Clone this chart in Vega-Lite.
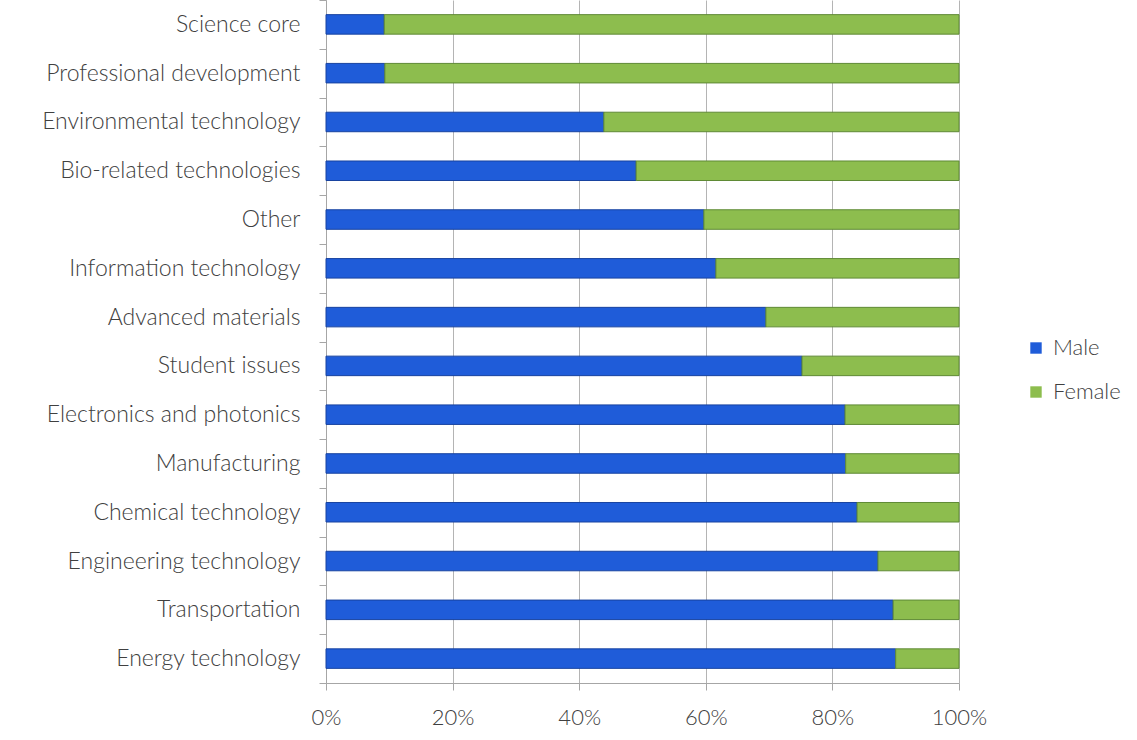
{
  "$schema": "https://vega.github.io/schema/vega-lite/v6.json",
  "width": 633,
  "height": 683,
  "autosize": {"type": "none"},
  "padding": {"left": 326, "top": 0, "right": 178, "bottom": 57},
  "background": "white",
  "config": {
    "view": {"stroke": null},
    "font": "Lato"
  },
  "data": {
    "values": [
      {"field": "Science core", "gender": "Male", "share": 0.092, "ord": 1},
      {"field": "Science core", "gender": "Female", "share": 0.908, "ord": 2},
      {"field": "Professional development", "gender": "Male", "share": 0.093, "ord": 1},
      {"field": "Professional development", "gender": "Female", "share": 0.907, "ord": 2},
      {"field": "Environmental technology", "gender": "Male", "share": 0.439, "ord": 1},
      {"field": "Environmental technology", "gender": "Female", "share": 0.561, "ord": 2},
      {"field": "Bio-related technologies", "gender": "Male", "share": 0.49, "ord": 1},
      {"field": "Bio-related technologies", "gender": "Female", "share": 0.51, "ord": 2},
      {"field": "Other", "gender": "Male", "share": 0.597, "ord": 1},
      {"field": "Other", "gender": "Female", "share": 0.403, "ord": 2},
      {"field": "Information technology", "gender": "Male", "share": 0.616, "ord": 1},
      {"field": "Information technology", "gender": "Female", "share": 0.384, "ord": 2},
      {"field": "Advanced materials", "gender": "Male", "share": 0.695, "ord": 1},
      {"field": "Advanced materials", "gender": "Female", "share": 0.305, "ord": 2},
      {"field": "Student issues", "gender": "Male", "share": 0.752, "ord": 1},
      {"field": "Student issues", "gender": "Female", "share": 0.248, "ord": 2},
      {"field": "Electronics and photonics", "gender": "Male", "share": 0.82, "ord": 1},
      {"field": "Electronics and photonics", "gender": "Female", "share": 0.18, "ord": 2},
      {"field": "Manufacturing", "gender": "Male", "share": 0.821, "ord": 1},
      {"field": "Manufacturing", "gender": "Female", "share": 0.179, "ord": 2},
      {"field": "Chemical technology", "gender": "Male", "share": 0.839, "ord": 1},
      {"field": "Chemical technology", "gender": "Female", "share": 0.161, "ord": 2},
      {"field": "Engineering technology", "gender": "Male", "share": 0.872, "ord": 1},
      {"field": "Engineering technology", "gender": "Female", "share": 0.128, "ord": 2},
      {"field": "Transportation", "gender": "Male", "share": 0.896, "ord": 1},
      {"field": "Transportation", "gender": "Female", "share": 0.104, "ord": 2},
      {"field": "Energy technology", "gender": "Male", "share": 0.90, "ord": 1},
      {"field": "Energy technology", "gender": "Female", "share": 0.10, "ord": 2}
    ]
  },
  "mark": {"type": "bar", "strokeWidth": 1, "height": {"band": 0.4}},
  "encoding": {
    "y": {
      "field": "field",
      "type": "nominal",
      "sort": ["Science core", "Professional development", "Environmental technology", "Bio-related technologies", "Other", "Information technology", "Advanced materials", "Student issues", "Electronics and photonics", "Manufacturing", "Chemical technology", "Engineering technology", "Transportation", "Energy technology"],
      "scale": {"paddingInner": 0, "paddingOuter": 0},
      "axis": {
        "title": null,
        "ticks": true,
        "tickBand": "extent",
        "tickSize": 7,
        "tickColor": "#a6a6a6",
        "domain": true,
        "domainColor": "#a6a6a6",
        "labelFontSize": 23,
        "labelFontWeight": 300,
        "labelColor": "#404040",
        "labelPadding": 19,
        "labelFont": "Lato",
        "labelLimit": 400
      }
    },
    "x": {
      "field": "share",
      "type": "quantitative",
      "stack": "zero",
      "scale": {"domain": [0, 1], "nice": false},
      "axis": {
        "title": null,
        "format": ".0%",
        "values": [0, 0.2, 0.4, 0.6, 0.8, 1],
        "grid": true,
        "gridColor": "#b4b4b4",
        "domainColor": "#a6a6a6",
        "tickColor": "#a6a6a6",
        "tickSize": 7,
        "labelFontSize": 22,
        "labelFontWeight": 300,
        "labelColor": "#404040",
        "labelPadding": 17,
        "labelFlush": false
      }
    },
    "color": {
      "field": "gender",
      "type": "nominal",
      "scale": {"domain": ["Male", "Female"], "range": ["#1f5cd9", "#8dbd4e"]},
      "legend": {
        "title": null,
        "orient": "none",
        "legendX": 699,
        "legendY": 337,
        "symbolType": "square",
        "symbolSize": 130,
        "symbolStrokeWidth": 0,
        "labelFontSize": 22,
        "labelFontWeight": 300,
        "labelColor": "#404040",
        "rowPadding": 22,
        "labelOffset": 6
      }
    },
    "stroke": {
      "field": "gender",
      "type": "nominal",
      "scale": {"domain": ["Male", "Female"], "range": ["#1843a0", "#5f8a35"]},
      "legend": null
    },
    "order": {"field": "ord", "type": "quantitative"}
  }
}
